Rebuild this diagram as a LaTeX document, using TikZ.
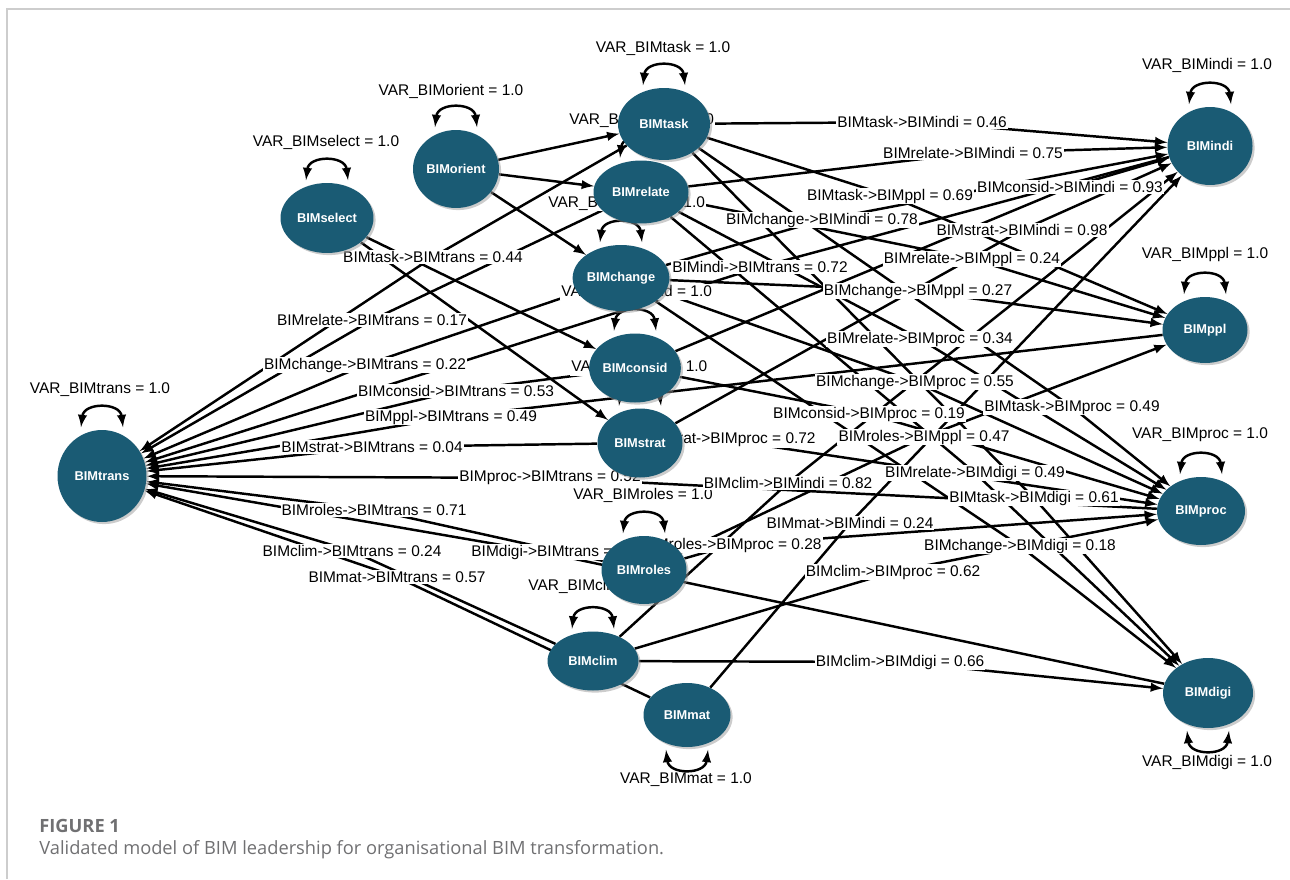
\documentclass[tikz,border=0pt]{standalone}
\usepackage{fontspec}
\setmainfont{Liberation Sans}
\newfontfamily\capfont{Open Sans}
\usepackage{xcolor}
\usepackage{tikz}
\usetikzlibrary{shapes.geometric,shadows}

\definecolor{bimteal}{RGB}{26,91,116}
\definecolor{capgray}{RGB}{112,112,114}
\definecolor{framegray}{RGB}{205,205,205}

\pgfdeclarelayer{edges}
\pgfdeclarelayer{vars}
\pgfsetlayers{edges,main,vars}

% double headed variance arrow above / below a node
\newcommand{\loopabove}[1]{\draw[varloop] ([xshift=-0.42cm,yshift=0.05cm]#1.north) .. controls +(0.06cm,0.5cm) and +(-0.06cm,0.5cm) .. ([xshift=0.42cm,yshift=0.05cm]#1.north);}
\newcommand{\loopbelow}[1]{\draw[varloop] ([xshift=-0.42cm,yshift=-0.05cm]#1.south) .. controls +(0.06cm,-0.5cm) and +(-0.06cm,-0.5cm) .. ([xshift=0.42cm,yshift=-0.05cm]#1.south);}

\begin{document}
\begin{tikzpicture}[
    x=0.02cm, y=-0.02cm,
    latent/.style={ellipse, fill=bimteal, text=white, inner sep=0pt, font=\bfseries\fontsize{7.3}{8}\selectfont, drop shadow={shadow xshift=1.2pt, shadow yshift=-1.2pt, fill=black!40, opacity=0.5}},
    lbl/.style={fill=white, inner sep=0.6pt, font=\fontsize{8.8}{10}\selectfont},
    line/.style={draw, -latex, line width=1.4pt},
    varloop/.style={draw, latex-latex, line width=1.4pt}
]
\useasboundingbox (0,0) rectangle (1290,879);
\draw[framegray, line width=0.7pt] (7,879) -- (7,9) -- (1290,9);

\begin{pgfonlayer}{vars}
\node [latent, minimum width=1.78cm, minimum height=1.84cm] (trans) at (102,476) {BIMtrans};
\node [latent, minimum width=1.86cm, minimum height=1.40cm] (select) at (327,218) {BIMselect};
\node [latent, minimum width=1.72cm, minimum height=1.56cm] (orient) at (456,169) {BIMorient};
\node [latent, minimum width=1.84cm, minimum height=1.44cm] (task) at (664,124) {BIMtask};
\node [latent, minimum width=1.90cm, minimum height=1.26cm] (relate) at (641,192) {BIMrelate};
\node [latent, minimum width=1.76cm, minimum height=1.32cm] (change) at (621,278) {BIMchange};
\node [latent, minimum width=1.82cm, minimum height=1.38cm] (consid) at (635,368) {BIMconsid};
\node [latent, minimum width=1.70cm, minimum height=1.38cm] (strat) at (640,443) {BIMstrat};
\node [latent, minimum width=1.70cm, minimum height=1.36cm] (roles) at (644,570) {BIMroles};
\node [latent, minimum width=1.82cm, minimum height=1.18cm] (clim) at (593,661) {BIMclim};
\node [latent, minimum width=1.74cm, minimum height=1.28cm] (mat) at (687,715) {BIMmat};
\node [latent, minimum width=1.70cm, minimum height=1.56cm] (indi) at (1210,146) {BIMindi};
\node [latent, minimum width=1.70cm, minimum height=1.32cm] (ppl) at (1205,330) {BIMppl};
\node [latent, minimum width=1.76cm, minimum height=1.36cm] (proc) at (1201,511) {BIMproc};
\node [latent, minimum width=1.80cm, minimum height=1.40cm] (digi) at (1208,693) {BIMdigi};
\end{pgfonlayer}

% variances
\node [lbl] (v-trans) at (100,390) {VAR\_BIMtrans = 1.0};
\node [lbl] (v-select) at (326,142) {VAR\_BIMselect = 1.0};
\node [lbl] (v-orient) at (451,91) {VAR\_BIMorient = 1.0};
\node [lbl] (v-task) at (663,48) {VAR\_BIMtask = 1.0};
\node [lbl, anchor=west] (v-relate) at (568,120) {VAR\_BIMrelate = 1.0};
\node [lbl, anchor=west] (v-change) at (547,203) {VAR\_BIMchange = 1.0};
\node [lbl, anchor=west] (v-consid) at (560,292) {VAR\_BIMconsid = 1.0};
\node [lbl, anchor=west] (v-strat) at (570,368) {VAR\_BIMstrat = 1.0};
\node [lbl] (v-roles) at (643,495) {VAR\_BIMroles = 1.0};
\node [lbl, anchor=west] (v-clim) at (527,586) {VAR\_BIMclim = 1.0};
\node [lbl] (v-mat) at (686,780) {VAR\_BIMmat = 1.0};
\node [lbl] (v-indi) at (1207,65) {VAR\_BIMindi = 1.0};
\node [lbl] (v-ppl) at (1205,254) {VAR\_BIMppl = 1.0};
\node [lbl] (v-proc) at (1200,435) {VAR\_BIMproc = 1.0};
\node [lbl] (v-digi) at (1207,762) {VAR\_BIMdigi = 1.0};

\loopabove{trans}
\loopabove{select}
\loopabove{orient}
\loopabove{task}
\loopabove{relate}
\loopabove{change}
\loopabove{consid}
\loopabove{strat}
\loopabove{roles}
\loopabove{clim}
\loopbelow{mat}
\loopabove{indi}
\loopabove{ppl}
\loopabove{proc}
\loopbelow{digi}

% path estimates
\node [lbl] (e-task-indi) at (922,122) {BIMtask->BIMindi = 0.46};
\node [lbl] (e-relate-indi) at (973,153) {BIMrelate->BIMindi = 0.75};
\node [lbl] (e-consid-indi) at (1070,187) {BIMconsid->BIMindi = 0.93};
\node [lbl] (e-change-indi) at (822,220) {BIMchange->BIMindi = 0.78};
\node [lbl] (e-strat-indi) at (1022,230) {BIMstrat->BIMindi = 0.98};
\node [lbl] (e-clim-indi) at (788,483) {BIMclim->BIMindi = 0.82};
\node [lbl] (e-mat-indi) at (850,523) {BIMmat->BIMindi = 0.24};
\node [lbl] (e-task-ppl) at (890,196) {BIMtask->BIMppl = 0.69};
\node [lbl] (e-relate-ppl) at (972,259) {BIMrelate->BIMppl = 0.24};
\node [lbl] (e-change-ppl) at (918,291) {BIMchange->BIMppl = 0.27};
\node [lbl] (e-roles-ppl) at (924,437) {BIMroles->BIMppl = 0.47};
\node [lbl] (e-relate-proc) at (920,339) {BIMrelate->BIMproc = 0.34};
\node [lbl] (e-change-proc) at (915,382) {BIMchange->BIMproc = 0.55};
\node [lbl] (e-consid-proc) at (869,414) {BIMconsid->BIMproc = 0.19};
\node [lbl] (e-task-proc) at (1072,407) {BIMtask->BIMproc = 0.49};
\node [lbl, anchor=east] (e-strat-proc) at (817,440) {BIMstrat->BIMproc = 0.72};
\node [lbl, anchor=east] (e-roles-proc) at (823,545) {BIMroles->BIMproc = 0.28};
\node [lbl] (e-clim-proc) at (893,572) {BIMclim->BIMproc = 0.62};
\node [lbl] (e-relate-digi) at (975,473) {BIMrelate->BIMdigi = 0.49};
\node [lbl] (e-task-digi) at (1034,498) {BIMtask->BIMdigi = 0.61};
\node [lbl] (e-change-digi) at (1020,546) {BIMchange->BIMdigi = 0.18};
\node [lbl] (e-clim-digi) at (900,662) {BIMclim->BIMdigi = 0.66};
\node [lbl] (e-task-trans) at (433,257) {BIMtask->BIMtrans = 0.44};
\node [lbl] (e-indi-trans) at (760,267) {BIMindi->BIMtrans = 0.72};
\node [lbl] (e-relate-trans) at (372,320) {BIMrelate->BIMtrans = 0.17};
\node [lbl] (e-change-trans) at (365,365) {BIMchange->BIMtrans = 0.22};
\node [lbl] (e-consid-trans) at (456,391) {BIMconsid->BIMtrans = 0.53};
\node [lbl] (e-ppl-trans) at (451,417) {BIMppl->BIMtrans = 0.49};
\node [lbl] (e-strat-trans) at (372,447) {BIMstrat->BIMtrans = 0.04};
\node [lbl] (e-proc-trans) at (550,478) {BIMproc->BIMtrans = 0.52};
\node [lbl] (e-roles-trans) at (374,510) {BIMroles->BIMtrans = 0.71};
\node [lbl, anchor=west] (e-digi-trans) at (470,552) {BIMdigi->BIMtrans =};
\node [lbl] (e-clim-trans) at (352,551) {BIMclim->BIMtrans = 0.24};
\node [lbl] (e-mat-trans) at (397,577) {BIMmat->BIMtrans = 0.57};

\begin{pgfonlayer}{edges}
\path [line] (orient) -- (task);
\path [line] (orient) -- (relate);
\path [line] (orient) -- (change);
\path [line] (select) -- (consid);
\path [line] (select) -- (strat);

\path [line] (task) -- (e-task-indi.center) -- (indi);
\path [line] (relate) -- (e-relate-indi.center) -- (indi);
\path [line] (consid) -- (e-consid-indi.center) -- (indi);
\path [line] (change) -- (e-change-indi.center) -- (indi);
\path [line] (strat) -- (e-strat-indi.center) -- (indi);
\path [line] (clim) -- (e-clim-indi.center) -- (indi);
\path [line] (mat) -- (e-mat-indi.center) -- (indi);

\path [line] (task) -- (e-task-ppl.center) -- (ppl);
\path [line] (relate) -- (e-relate-ppl.center) -- (ppl);
\path [line] (change) -- (e-change-ppl.center) -- (ppl);
\path [line] (roles) -- (e-roles-ppl.center) -- (ppl);

\path [line] (relate) -- (e-relate-proc.center) -- (proc);
\path [line] (change) -- (e-change-proc.center) -- (proc);
\path [line] (consid) -- (e-consid-proc.center) -- (proc);
\path [line] (task) -- (e-task-proc.center) -- (proc);
\path [line] (strat) -- (e-strat-proc.center) -- (proc);
\path [line] (roles) -- (e-roles-proc.center) -- (proc);
\path [line] (clim) -- (e-clim-proc.center) -- (proc);

\path [line] (relate) -- (e-relate-digi.center) -- (digi);
\path [line] (task) -- (e-task-digi.center) -- (digi);
\path [line] (change) -- (e-change-digi.center) -- (digi);
\path [line] (clim) -- (e-clim-digi.center) -- (digi);

\path [line] (task) -- (e-task-trans.center) -- (trans);
\path [line] (indi) -- (e-indi-trans.center) -- (trans);
\path [line] (relate) -- (e-relate-trans.center) -- (trans);
\path [line] (change) -- (e-change-trans.center) -- (trans);
\path [line] (consid) -- (e-consid-trans.center) -- (trans);
\path [line] (ppl) -- (e-ppl-trans.center) -- (trans);
\path [line] (strat) -- (e-strat-trans.center) -- (trans);
\path [line] (proc) -- (e-proc-trans.center) -- (trans);
\path [line] (roles) -- (e-roles-trans.center) -- (trans);
\path [line] (digi) -- (e-digi-trans.center) -- (trans);
\path [line] (clim) -- (e-clim-trans.center) -- (trans);
\path [line] (mat) -- (e-mat-trans.center) -- (trans);
\end{pgfonlayer}

% caption
\node [anchor=west, inner sep=0pt, text=capgray, font=\capfont\bfseries\fontsize{10.4}{12}\selectfont] (fignum) at (39,826) {FIGURE 1};
\node [anchor=west, inner sep=0pt, text=capgray, font=\capfont\fontsize{10.4}{12}\selectfont] (figcap) at (39,850) {Validated model of BIM leadership for organisational BIM transformation.};

\end{tikzpicture}
\end{document}
